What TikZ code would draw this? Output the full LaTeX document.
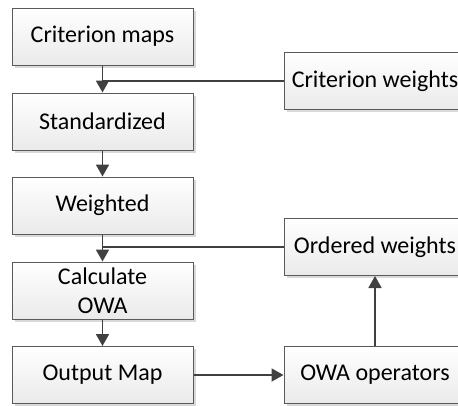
\documentclass[tikz,border=0pt]{standalone}
\usepackage{fontspec}
\setmainfont{Carlito}
\usetikzlibrary{arrows.meta,shadows}
\definecolor{boxline}{HTML}{5A5A5A}
\definecolor{boxbottom}{HTML}{EAEAEA}
\definecolor{linkcol}{HTML}{404040}
\tikzset{
  stepbox/.style={draw=boxline, line width=1pt, rectangle,
    top color=white, bottom color=boxbottom,
    minimum width=181pt, minimum height=57pt, inner sep=0pt,
    align=center, font=\fontsize{24}{29}\selectfont,
    drop shadow={shadow xshift=2.5pt, shadow yshift=-2.5pt, fill=black!15, opacity=1}},
  link/.style={draw=linkcol, line width=1.8pt},
  arr/.style={link, -{Triangle[length=12pt,width=13pt]}}
}
\begin{document}
\begin{tikzpicture}[x=1pt,y=-1pt]
\useasboundingbox (0,0) rectangle (458,405);
\clip (0,0) rectangle (458,405);
\fill[white] (0,0) rectangle (458,405);
% main chain
\node[stepbox] (crit) at (102.5,36.5) {Criterion maps};
\node[stepbox] (std)  at (102.5,121.5) {Standardized};
\node[stepbox] (wgt)  at (102.5,205.5) {Weighted};
\node[stepbox] (owa)  at (102.5,290.5) {Calculate\\OWA};
\node[stepbox] (out)  at (102.5,375) {Output Map};
% side inputs
\node[stepbox, minimum width=182pt] (cw)  at (375,81)  {Criterion weights};
\node[stepbox, minimum width=182pt] (ow)  at (375,247) {Ordered weights};
\node[stepbox, minimum width=182pt] (ops) at (375,375) {OWA operators};
% junction points on the chain
\coordinate (j1) at (crit.south |- cw.west);
\coordinate (j2) at (wgt.south |- ow.west);
\draw[arr] (crit.south) -- (std.north);
\draw[link] (cw.west) -- (j1);
\draw[arr] (std.south) -- (wgt.north);
\draw[arr] (wgt.south) -- (owa.north);
\draw[link] (ow.west) -- (j2);
\draw[arr] (owa.south) -- (out.north);
\draw[arr] (out.east) -- (ops.west);
\draw[arr] (ops.north) -- (ow.south);
\end{tikzpicture}
\end{document}
